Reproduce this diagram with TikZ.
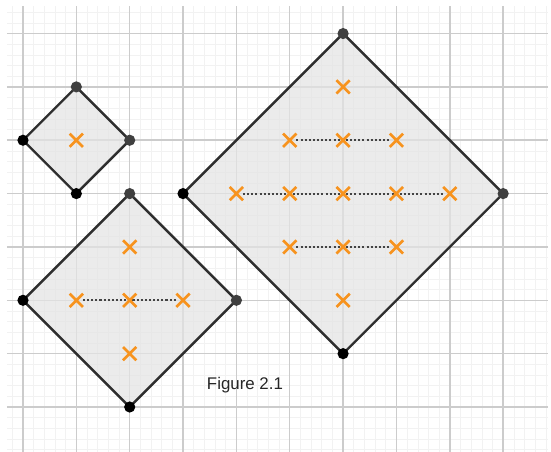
\documentclass[tikz,border=0pt]{standalone}
\usepackage{fontspec}
\setmainfont{Liberation Sans}
\usetikzlibrary{shapes.misc}

\definecolor{gridmajor}{HTML}{CCCCCC}
\definecolor{gridminor}{HTML}{F2F2F2}
\definecolor{markorange}{HTML}{F7931E}
\definecolor{edgegray}{HTML}{2E2E2E}
\definecolor{tilefill}{HTML}{E4E4E4}

\pgfdeclarelayer{back}
\pgfdeclarelayer{mid}
\pgfsetlayers{back,mid,main}

\tikzset{
  vtx/.style={circle, fill=black, inner sep=0pt, minimum size=0.21cm},
  vtxgray/.style={vtx, fill=black!75},
  xmark/.style={cross out, draw=markorange, line width=1.4pt, minimum size=0.2cm, inner sep=0pt},
  tile/.style={draw=edgegray, line width=1.3pt, fill=tilefill, fill opacity=0.75, line join=round},
  link/.style={draw=edgegray!90, line width=1.1pt, dash pattern=on 1.1pt off 1.1pt}
}

\begin{document}
\begin{tikzpicture}

  % Fix the page size
  \useasboundingbox (-0.431,-0.841) rectangle (9.897,7.629);

  % Grid paper
  \begin{pgfonlayer}{back}
    \draw[gridminor, line width=0.3pt, step=0.2] (-0.3,-0.84) grid (9.84,7.52);
    \draw[gridmajor, line width=0.8pt, step=1] (-0.3,-0.84) grid (9.84,7.52);
  \end{pgfonlayer}

  % Tiles: name / centre / half-diagonal
  \foreach \nm/\cx/\cy/\r in {s/1/5/1, m/2/2/2, l/6/4/3} {
    \node[vtxgray] (\nm T) at (\cx,\cy+\r) {};
    \node[vtx] (\nm L) at (\cx-\r,\cy) {};
    \node[vtxgray] (\nm R) at (\cx+\r,\cy) {};
    \node[vtx] (\nm B) at (\cx,\cy-\r) {};
    \begin{pgfonlayer}{back}
      \filldraw[tile] (\nm T.center) -- (\nm R.center) -- (\nm B.center) -- (\nm L.center) -- cycle;
    \end{pgfonlayer}
  }

  % Inner points of the small tile
  \node[xmark] (sa) at (1,5) {};

  % Inner points of the medium tile
  \foreach \x/\y/\n in {2/3/ma, 1/2/mb, 2/2/mc, 3/2/md, 2/1/me}
    \node[xmark] (\n) at (\x,\y) {};

  % Inner points of the large tile
  \foreach \x/\y/\n in {6/6/la, 5/5/lb, 6/5/lc, 7/5/ld, 4/4/le, 5/4/lf, 6/4/lg,
                        7/4/lh, 8/4/li, 5/3/lj, 6/3/lk, 7/3/ll, 6/2/lm}
    \node[xmark] (\n) at (\x,\y) {};

  % Dotted rows
  \begin{pgfonlayer}{mid}
    \draw[link] (mb) -- (md);
    \draw[link] (lb) -- (ld);
    \draw[link] (le) -- (li);
    \draw[link] (lj) -- (ll);
  \end{pgfonlayer}

  \node[font=\fontsize{9}{10}\selectfont, text=black!85] (caption) at (4.16,0.41) {Figure 2.1};

\end{tikzpicture}
\end{document}
